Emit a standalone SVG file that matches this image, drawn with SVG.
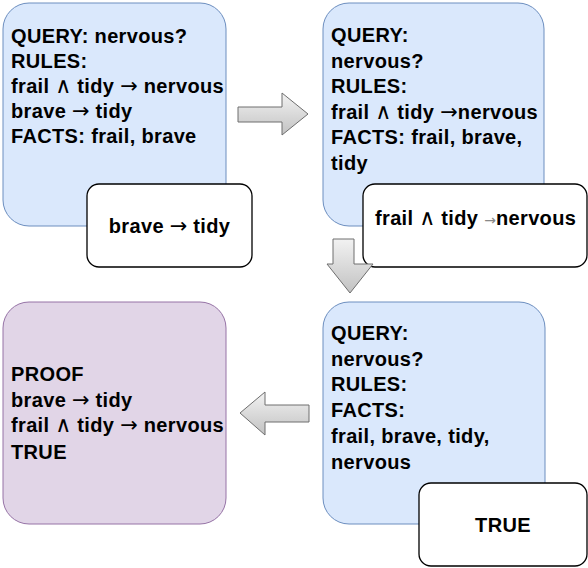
<svg xmlns="http://www.w3.org/2000/svg" width="588" height="568" viewBox="0 0 588 568">
<defs>
<linearGradient id="g" x1="0" y1="0" x2="0" y2="1">
<stop offset="0" stop-color="#f2f2f2"/>
<stop offset="1" stop-color="#c2c2c2"/>
</linearGradient>
<style>
.blue{fill:#dae8fc;stroke:#6c8ebf;stroke-width:1}
.purple{fill:#e1d5e7;stroke:#9673a6;stroke-width:1}
.white{fill:#ffffff;stroke:#000000;stroke-width:1.3}
.arr{fill:url(#g);stroke:#6e6e6e;stroke-width:1}
text{font-family:"Liberation Sans",Arial,sans-serif;font-weight:bold;font-size:20px;letter-spacing:0.35px;fill:#000}
.op{font-family:"DejaVu Sans",sans-serif;font-weight:normal;font-size:21px;letter-spacing:0}
.and{font-family:"DejaVu Sans",sans-serif;font-weight:normal;font-size:22px;letter-spacing:0}
.small{font-family:"DejaVu Sans",sans-serif;font-size:14px;fill:#888;font-weight:normal;letter-spacing:0}
</style>
</defs>
<g id="box1">
<rect class="blue" x="3" y="3" width="223" height="223" rx="26"/>
<text x="11" y="43">QUERY: nervous?</text>
<text x="11" y="68">RULES:</text>
<text x="11" y="93">frail <tspan class="and">∧</tspan> tidy <tspan class="op">→</tspan> nervous</text>
<text x="11" y="118">brave <tspan class="op">→</tspan> tidy</text>
<text x="11" y="143">FACTS: frail, brave</text>
</g>
<g id="step1">
<rect class="white" x="87" y="184" width="165" height="83" rx="12"/>
<text x="169.5" y="233" text-anchor="middle">brave <tspan class="op">→</tspan> tidy</text>
</g>
<g id="box2">
<rect class="blue" x="323" y="3" width="221" height="223" rx="26"/>
<text x="331" y="42">QUERY:</text>
<text x="331" y="67.5">nervous?</text>
<text x="331" y="93">RULES:</text>
<text x="331" y="118.5">frail <tspan class="and">∧</tspan> tidy <tspan class="op">→</tspan>nervous</text>
<text x="331" y="144">FACTS: frail, brave,</text>
<text x="331" y="169.5">tidy</text>
</g>
<g id="step2">
<rect class="white" x="363" y="184" width="224" height="83" rx="12"/>
<text x="375" y="225">frail <tspan class="and">∧</tspan> tidy <tspan class="small">→</tspan>nervous</text>
</g>
<g id="box3">
<rect class="blue" x="323" y="302" width="222" height="222" rx="26"/>
<text x="331" y="340">QUERY:</text>
<text x="331" y="365.5">nervous?</text>
<text x="331" y="391">RULES:</text>
<text x="331" y="417">FACTS:</text>
<text x="331" y="443">frail, brave, tidy,</text>
<text x="331" y="469">nervous</text>
</g>
<g id="step3">
<rect class="white" x="419" y="483" width="168" height="83" rx="12"/>
<text x="503" y="532" text-anchor="middle">TRUE</text>
</g>
<g id="proof">
<rect class="purple" x="3" y="302" width="223" height="222" rx="26"/>
<text x="11" y="381">PROOF</text>
<text x="11" y="406.5">brave <tspan class="op">→</tspan> tidy</text>
<text x="11" y="432">frail <tspan class="and">∧</tspan> tidy <tspan class="op">→</tspan> nervous</text>
<text x="11" y="459">TRUE</text>
</g>
<g id="connectors">
<path class="arr" d="M238 107 H282 V93 L308 114 L282 135 V122 H238 Z"/>
<path class="arr" d="M333 239 H354 V264 H373 L350 293 L327 264 H333 Z"/>
<path class="arr" d="M309 405 H265 V392 L240 413 L265 435 V422 H309 Z"/>
</g>
</svg>
